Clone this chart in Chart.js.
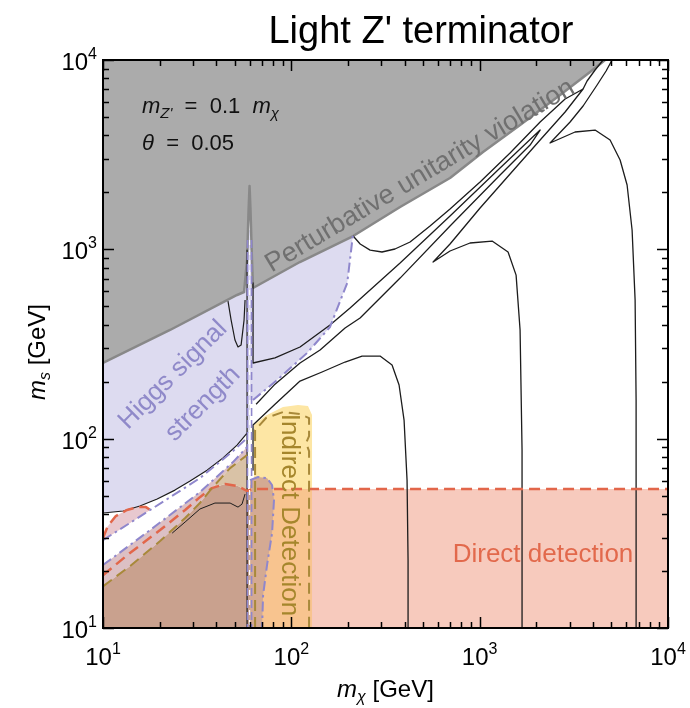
<!DOCTYPE html>
<html>
<head>
<meta charset="UTF-8">
<title>Light Z' terminator</title>
<script src="https://cdn.jsdelivr.net/npm/chart.js@4.4.1/dist/chart.umd.min.js"></script>
<style>
body { margin:0; background:#fff; }
canvas { display:block; }
</style>
</head>
<body>
<canvas id="canvas" width="690" height="708"></canvas>
<script>
// axis decades
var tickValues = [10, 100, 1000, 10000];
var tickExponents = ['1', '2', '3', '4'];
var minorSteps = [2, 3, 4, 5, 6, 7, 8, 9];

// regions and contours, points are [m_chi, m_s] in GeV
var unitarityRegion = [[10,10000],[4634,10000],[3857,8643],[2673,6534],[1639,4536],[1042,3266],[696,2381],[378,1673],[213,1176],[111,857],[62.6,625],[61.8,878],[60.7,1613],[60.0,2160],[59.3,1613],[58.2,878],[56.1,595],[51.5,574],[22.7,375],[10,251]];
var higgsLeft = [[10,540],[60.3,1265],[60.3,107],[58.2,107],[51.5,92.5],[43.4,79],[35.7,68.2],[29,59.7],[24.1,53.5],[19.4,48],[15.7,44.1],[12.8,41.5],[10,40.5]];
var higgsRight = [[60.3,1265],[232,2320],[213,1220],[198,664],[160.5,389],[121,283],[84,204],[62.6,160],[60.3,160]];
var directRegion = [[58.2,54.2],[10000,54.2],[10000,10],[58.2,10]];
var indirectUpper = [[63.4,54.2],[63.4,118],[72.5,131.6],[90.3,146.9],[108.5,150.5],[122.6,148.7],[128.8,133.3],[128.8,54.2]];
var indirectLower = [[62.6,54.2],[128.8,54.2],[128.8,10],[62.6,10]];
var overlapRegion = [[10,16.6],[13.9,21.2],[20.1,28.8],[27.3,38.1],[32.7,45.7],[37.9,54.8],[44.5,57.6],[52.1,56.2],[58.2,52.9],[61.8,52.9],[66.6,10],[10,10]];
var bandStrip = [[10,21.5],[17.8,32.9],[32.7,52.2],[49,75.2],[58.2,90.3],[58.2,81.9],[47.3,69.9],[37.9,54.8],[32.7,45.7],[27.3,38.1],[20.1,28.8],[13.9,21.2],[10,16.6]];
var tanWedge = [[37.9,54.8],[47.3,69.9],[58.2,81.9],[58.2,52.9],[52.1,56.2],[44.5,57.6]];
var pinkLobe = [[10,29.9],[10.6,34.5],[11.7,39],[13.4,42],[15.3,43.5],[16.9,43.5],[17.8,42],[13.1,34.5],[10,29.1]];
var higgsLoop = [[60.3,60.4],[66.6,62.7],[74.3,61.9],[79,56.9],[80.9,47.4],[79,31.7],[74.3,21.5],[70.8,14.9],[69.9,10]];

var contourC1 = [[10,40.5],[12.8,41.5],[15.7,44.1],[19.4,48],[24.1,53.5],[29,59.7],[35.7,68.2],[43.4,79],[51.5,92.5],[58.2,107],[58.2,10]];
var spikeEdge = [[58.2,991],[58.2,107]];
var contourC2 = [[46.1,533],[47.9,423],[50.2,332],[52.1,305],[54.1,312],[56.1,423],[56.8,540]];
var contourC4 = [[23.3,31.7],[27.3,36.3],[32.7,42.5],[39.3,45.7],[47.3,45.7],[52.1,43.5],[54.7,45.1],[56.8,51]];
var contourK1 = [[416.7,10],[416.7,22.8],[411.6,60.4],[396.8,125.4],[373.3,192],[342.6,245],[295.8,273],[237.4,273],[192.9,254],[145.6,225],[111.2,201.5],[81.9,152],[62.6,118],[62.6,68.2]];
var contourK1b = [[62.6,664],[62.6,251],[81.9,267],[111.2,305],[160.5,398],[205,490],[378,847],[696,1500],[1283,2689],[2094,4267],[1852,3556],[1283,2469],[696,1328],[378,705],[231.7,434],[192.9,384],[142.1,294],[111.2,251],[81.9,194],[65,152]];
var contourK2 = [[1679,10],[1679,87],[1639,375],[1561,731],[1415,968],[1164,1106],[889,1080],[696,980],[566,857],[696,1067],[1005,1653],[1450,2499],[2094,3781],[2842,5314],[3541,7027],[2842,6223],[2094,4704],[1450,3227],[1005,2267],[696,1633],[545,1328],[427,1093],[355,1004],[303,968],[262,991],[232,1067],[213,1176]];
var contourK2top = [[4522,10000],[4100,8855],[3718,7746],[3541,7027]];
var contourK3 = [[6771,10],[6771,160],[6689,540],[6447,1265],[6065,2186],[5568,2963],[4926,3781],[4100,4267],[3210,4166],[2365,3645],[3021,4704],[3541,5715],[4202,7378],[4691,8748],[5048,10000]];

var directEdge = [[10,19],[13.9,24.9],[20.1,32.9],[27.3,42],[32.7,49.1],[37.9,54.8],[44.5,57.6],[52.1,56.2],[58.2,52.9],[62.6,54.2],[10000,54.2]];
var directLobe = [[10,29.9],[10.6,34.5],[11.7,39],[13.4,42],[15.3,43.5],[16.9,43.5],[17.8,42]];
var indirectEdgeLeft = [[10,16.6],[13.9,21.2],[20.1,28.8],[27.3,38.1],[32.7,45.7],[37.9,54.8],[47.3,69.9],[58.2,81.9]];
var indirectEdgeRight = [[64.2,10],[64.2,111],[73.4,128.5],[90.4,138.2],[111.2,134.9],[124.2,128.5],[124.2,103.2],[119.7,94.8],[124.2,86],[124.2,10]];
var higgsEdgeRight = [[62.6,160],[84,204],[121,283],[160.5,389],[198,664],[213,1220]];
var higgsEdgeUpper = [[10,29.1],[17.8,42],[32.7,61.9],[49,86],[58.2,100.7]];
var higgsEdgeLower = [[10,21.5],[17.8,32.9],[32.7,52.2],[49,75.2],[58.2,90.3]];
var spikeDashA = [[58.5,1120],[58.5,10]];
var spikeDashB = [[61.5,1120],[61.5,10]];
var spikeMid = [[60,1120],[60,10]];

var FONT = '"Liberation Sans", Arial, Helvetica, sans-serif';

function pts(arr) {
    return arr.map(function (p) { return { x: p[0], y: p[1] }; });
}
function region(arr, color) {
    return { data: pts(arr), backgroundColor: color, borderColor: 'rgba(0,0,0,0)', borderWidth: 0,
             fill: 'shape', pointRadius: 0, tension: 0 };
}
function curve(arr, color, width, dash) {
    return { data: pts(arr), borderColor: color, borderWidth: width, borderDash: dash || [],
             fill: false, pointRadius: 0, tension: 0, borderJoinStyle: 'round' };
}

var BLACK = '#1c1c1c', RED = '#e2664a', OLIVE = '#a8893a', LAV = '#8f87cc';
var DASH = [11, 6], DASHDOT = [10, 4, 2.5, 4];

// bottom to top
var layers = [
    region(directRegion, '#f7cabd'),
    region(indirectLower, '#f8c48f'),
    region(indirectUpper, '#fde6a4'),
    region(higgsLeft, '#dddbf0'),
    region(higgsRight, '#dddbf0'),
    region(bandStrip, '#dcc0c4'),
    region(overlapRegion, '#c9a18e'),
    region(tanWedge, '#d9c2a6'),
    region(pinkLobe, '#e8c8cf'),
    region(higgsLoop.concat([[60.3, 10]]), '#d4aa93'),
    region(unitarityRegion, '#ababab'),
    curve(unitarityRegion.slice(1), '#888888', 2.5),
    curve(contourC1, BLACK, 1.2),
    curve(spikeEdge, BLACK, 1.2),
    curve(contourC2, BLACK, 1.2),
    curve(contourC4, BLACK, 1),
    curve(contourK1, BLACK, 1.3),
    curve(contourK1b, BLACK, 1.3),
    curve(contourK2, BLACK, 1.3),
    curve(contourK2top, BLACK, 1.3),
    curve(contourK3, BLACK, 1.3),
    curve(directEdge, RED, 2.5, DASH),
    curve(directLobe, RED, 2.5, DASH),
    curve(indirectEdgeLeft, OLIVE, 2, DASH),
    curve(indirectEdgeRight, OLIVE, 2, DASH),
    curve(higgsEdgeRight, LAV, 2, DASHDOT),
    curve(higgsEdgeUpper, LAV, 2, DASHDOT),
    curve(higgsEdgeLower, LAV, 2, DASHDOT),
    curve(higgsLoop, LAV, 2, DASHDOT),
    curve(spikeDashA, LAV, 1.6, [8, 4]),
    curve(spikeDashB, LAV, 1.6, [8, 4]),
    curve(spikeMid, '#ffffff', 1.2, [5, 5])
];
layers.forEach(function (d, i) { d.order = -i; });

function drawRuns(ctx, runs, x, y, align) {
    var w = 0;
    runs.forEach(function (r) { ctx.font = r.font; r.w = ctx.measureText(r.text).width; w += r.w; });
    var cx = align === 'center' ? x - w / 2 : (align === 'right' ? x - w : x);
    ctx.textAlign = 'left';
    runs.forEach(function (r) { ctx.font = r.font; ctx.fillText(r.text, cx, y + (r.dy || 0)); cx += r.w; });
}

function rotatedText(ctx, text, x, y, deg, font, color) {
    ctx.save();
    ctx.translate(x, y);
    ctx.rotate(deg * Math.PI / 180);
    ctx.font = font;
    ctx.fillStyle = color;
    ctx.textAlign = 'center';
    ctx.textBaseline = 'middle';
    ctx.fillText(text, 0, 0);
    ctx.restore();
}

var frameAndText = {
    id: 'frameAndText',
    afterDraw: function (chart) {
        var ctx = chart.ctx, a = chart.chartArea, xs = chart.scales.x, ys = chart.scales.y;
        ctx.save();
        ctx.strokeStyle = '#000';
        ctx.lineWidth = 1.5;
        function tick(v, len) {
            var px = Math.round(xs.getPixelForValue(v)) + 0.5;
            var py = Math.round(ys.getPixelForValue(v)) + 0.5;
            ctx.beginPath();
            ctx.moveTo(px, a.bottom); ctx.lineTo(px, a.bottom - len);
            ctx.moveTo(px, a.top); ctx.lineTo(px, a.top + len);
            ctx.moveTo(a.left, py); ctx.lineTo(a.left + len, py);
            ctx.moveTo(a.right, py); ctx.lineTo(a.right - len, py);
            ctx.stroke();
        }
        for (var d = 0; d < tickValues.length - 1; d++) {
            minorSteps.forEach(function (m) { tick(tickValues[d] * m, 6); });
        }
        tickValues.forEach(function (v) { tick(v, 11); });
        ctx.lineWidth = 2;
        ctx.strokeRect(a.left, a.top, a.right - a.left, a.bottom - a.top);

        ctx.fillStyle = '#000';
        ctx.textBaseline = 'alphabetic';
        tickValues.forEach(function (v, i) {
            var runs = [{ text: '10', font: '24px ' + FONT }, { text: tickExponents[i], font: '16px ' + FONT, dy: -11 }];
            drawRuns(ctx, runs, xs.getPixelForValue(v), a.bottom + 37, 'center');
            drawRuns(ctx, runs, a.left - 6, ys.getPixelForValue(v) + 10, 'right');
        });

        // axis titles
        drawRuns(ctx, [
            { text: 'm', font: 'italic 24px ' + FONT },
            { text: 'χ', font: 'italic 16px ' + FONT, dy: 5 },
            { text: ' [GeV]', font: '24px ' + FONT }
        ], (a.left + a.right) / 2, 697, 'center');
        ctx.save();
        ctx.translate(45, 352);
        ctx.rotate(-Math.PI / 2);
        drawRuns(ctx, [
            { text: 'm', font: 'italic 24px ' + FONT },
            { text: 's', font: 'italic 16px ' + FONT, dy: 5 },
            { text: ' [GeV]', font: '24px ' + FONT }
        ], 0, 0, 'center');
        ctx.restore();

        // title
        ctx.font = '38px ' + FONT;
        ctx.textAlign = 'center';
        ctx.fillText("Light Z' terminator", 421, 43);

        // parameters
        ctx.fillStyle = '#111';
        drawRuns(ctx, [
            { text: 'm', font: 'italic 22px ' + FONT },
            { text: "Z'", font: 'italic 15px ' + FONT, dy: 5 },
            { text: '  =  0.1  ', font: '22px ' + FONT },
            { text: 'm', font: 'italic 22px ' + FONT },
            { text: 'χ', font: 'italic 15px ' + FONT, dy: 5 }
        ], 142, 113, 'left');
        drawRuns(ctx, [
            { text: 'θ', font: 'italic 22px ' + FONT },
            { text: '  =  0.05', font: '22px ' + FONT }
        ], 142, 150, 'left');

        // region labels
        rotatedText(ctx, 'Perturbative unitarity violation', 420, 176, -30.7, '27px ' + FONT, '#707070');
        rotatedText(ctx, 'Higgs signal', 173, 375, -45, '26px ' + FONT, '#8f89c9');
        rotatedText(ctx, 'strength', 203, 404, -45, '26px ' + FONT, '#8f89c9');
        rotatedText(ctx, 'Indirect Detection', 289, 515, 90, '26px ' + FONT, '#a5862c');
        rotatedText(ctx, 'Direct detection', 543, 555, 0, '26px ' + FONT, '#e2694c');
        ctx.restore();
    }
};

new Chart(document.getElementById('canvas').getContext('2d'), {
    type: 'line',
    data: { datasets: layers },
    options: {
        responsive: false,
        animation: false,
        events: [],
        layout: { padding: { top: 60, right: 22, left: 0, bottom: 0 } },
        plugins: { legend: { display: false }, tooltip: { enabled: false }, title: { display: false } },
        scales: {
            x: { type: 'logarithmic', min: 10, max: 10000, grid: { display: false }, border: { display: false },
                 ticks: { display: false }, afterFit: function (s) { s.height = 80; } },
            y: { type: 'logarithmic', min: 10, max: 10000, grid: { display: false }, border: { display: false },
                 ticks: { display: false }, afterFit: function (s) { s.width = 103; } }
        }
    },
    plugins: [frameAndText]
});
</script>
</body>
</html>
